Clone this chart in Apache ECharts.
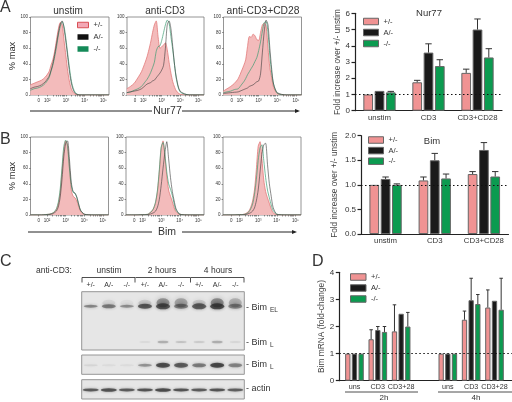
<!DOCTYPE html>
<html><head><meta charset="utf-8">
<style>html,body{margin:0;padding:0;background:#fff}#c{width:512px;height:402px}</style>
<script src="https://cdn.jsdelivr.net/npm/echarts@6/dist/echarts.min.js"></script>
</head><body><div id="c"></div>
<script>
// ---- histogram data (% max at each log10 fluorescence position) ----
const histX = [1.1,1.3,1.5,1.7,1.9,2.1,2.2,2.3,2.4,2.5,2.6,2.7,2.8,2.9,3.0,3.1,3.2,3.3,3.4,3.5,3.6,3.7,3.8,4.0,4.5,5.3];
const a1Het = [13,15,17,19,23,30,38,45,56,71,85,93,90,70,50,30,16,7,3,1,.5,0,0,0,0,0];
const a1A   = [8,10,11,13,17,24,31,40,52,66,80,91,95,85,68,48,28,14,6,2,1,0,0,0,0,0];
const a1KO  = [6,8,9,11,15,22,30,38,49,62,77,88,94,88,72,52,33,17,8,3,1,0,0,0,0,0];
const a2Het = [8,11,15,22,30,42,49,58,68,80,90,95,75,60,62,64,67,58,42,28,17,10,5,1,0,0];
const a2A   = [3,4,5,6,8,12,14,15,16,18,19,22,25,28,32,38,60,90,95,85,62,38,22,5,0,0];
const a2KO  = [3,4,6,8,11,17,20,24,29,35,42,56,62,63,70,80,90,96,92,75,58,38,20,4,0,0];
const a3Het = [5,8,11,15,21,32,38,45,62,75,74,78,76,71,70,80,90,92,88,60,35,22,10,2,0,0];
const a3A   = [2,2.5,3,3.5,4,6,7,8,9,11,12,13,15,17,18,27,55,82,96,90,60,33,14,3,0,0];
const a3KO  = [3,4,5,7,8,14,17,21,26,30,34,38,43,48,57,68,82,93,94,80,50,28,14,2,0,0];
const b1Het = [0,0,0,0,.5,1,1.5,2.5,4,7,14,28,55,82,95,90,62,32,24,22,18,11,5,1,0,0];
const b1A   = [0,0,0,0,.3,.5,1,1.5,3,5,10,22,45,75,92,95,72,42,30,28,23,14,6,1,0,0];
const b1KO  = [0,0,0,0,.5,1,1.5,2.5,4.5,8,16,32,60,88,96,88,60,38,29,28,22,13,6,1,0,0];
const b2Het = [0,0,0,0,.3,.5,.7,1,3,5,9,16,30,55,85,95,75,50,32,24,17,9,4,1,0,0];
const b2A   = [0,0,0,0,.2,.3,.5,.7,1,2,3,5,10,20,38,60,80,94,72,48,30,18,8,1,0,0];
const b2KO  = [0,0,0,0,.3,.5,.7,1,3,5,9,17,32,58,87,93,78,55,40,33,25,14,6,1,0,0];
const b3Het = [0,0,0,0,.3,.5,.8,1.5,3,5,10,18,32,58,88,94,72,45,30,22,15,8,3,.5,0,0];
const b3A   = [0,0,0,0,.2,.3,.5,.7,1,2,3,5,9,18,32,55,78,90,92,65,40,24,10,1,0,0];
const b3KO  = [0,0,0,0,.3,.5,.7,1,2,4,8,14,26,45,70,86,90,70,48,32,22,13,6,1,0,0];
const histTickVals = [1.55,2,3,4,5];
const histTickLabels = ['0','10²','10³','10⁴','10⁵'];
const histMinor = [1.55,2,2.3,2.48,2.6,2.7,2.78,2.85,2.9,3,3.3,3.48,3.6,3.7,3.78,3.85,3.9,4,4.3,4.48,4.6,4.7,4.78,4.85,4.9,5];
const histYTicks = [0,20,40,60,80,100];

// ---- bar data ----
const genotypes = ['+/-','A/-','-/-'];
const nurCats = ['unstim','CD3','CD3+CD28'];
const nurHet = [1.0,1.75,2.33], nurA = [1.22,3.58,5.0], nurKO = [1.13,2.75,3.28];
const nurHetTop = [1.0,1.87,2.56], nurATop = [1.25,4.12,5.65], nurKOTop = [1.19,3.14,3.82];
const bimCats = ['unstim','CD3','CD3+CD28'];
const bimHet = [1.0,1.09,1.22], bimA = [1.12,1.5,1.71], bimKO = [1.0,1.13,1.17];
const bimHetTop = [1.0,1.16,1.27], bimATop = [1.16,1.64,1.86], bimKOTop = [1.02,1.22,1.27];
const mrnaPos = [0,1,2,4,5,6];
const mrnaCats = ['uns','CD3','CD3+28','uns','CD3','CD3+28'];
const mrnaHet = [1,1.53,1.82,1,2.25,2.7], mrnaA = [1,1.87,2.47,1,2.97,2.95], mrnaKO = [1,1.8,2.0,1,2.83,2.62];
const mrnaHetTop = [1,1.88,2.8,1,2.57,3.35], mrnaATop = [1,2.0,2.47,1,3.78,2.95], mrnaKOTop = [1,2.0,2.52,1,3.18,3.78];

// ---- blot data (band strength, thickness, lane) ----
const lanes = ['+/-','A/-','-/-','+/-','A/-','-/-','+/-','A/-','-/-'];
const elStrength = [.5,.55,.45,.78,.8,.55,.75,.88,.5];
const elThick    = [3,4,3,5,6,5,6,6,5];
const smearStrength = [0,.08,.04,.15,.45,.35,.15,.5,.28];
const lowStrength = [0,0,0,.05,.25,.16,.12,.26,.07];
const bimLStrength = [.08,.05,.05,.42,.85,.75,.55,.9,.5];
const bimLThick    = [2,2,2,3,5,5,4,5,4];
const actinStrength = [.75,.8,.75,.8,.85,.8,.75,.8,.72];

const GREY='#333', PINK='#F09393', BLACK='#1a1a1a', GREEN='#0B9B50';
const FONT='"Liberation Sans",Arial,sans-serif';
const grids=[],xAxes=[],yAxes=[],series=[],legends=[];

function histPanel(box, het, a, ko, withName){
  const i=grids.length;
  grids.push({left:box[0],top:box[1],width:box[2],height:box[3],show:true,borderColor:'#7a7a7a',borderWidth:.8,backgroundColor:'#fff'});
  xAxes.push({gridIndex:i,type:'value',min:1.11,max:5.3,splitLine:{show:false},
    axisLine:{show:false},
    axisTick:{length:1.5,customValues:histMinor,lineStyle:{color:'#333',width:.5}},
    axisLabel:{customValues:histTickVals,fontSize:4.5,margin:3,color:'#333',fontFamily:FONT,
      formatter:v=>histTickLabels[histTickVals.indexOf(v)]}});
  yAxes.push({gridIndex:i,type:'value',min:0,max:100,interval:20,splitLine:{show:false},
    axisLine:{show:false,onZero:false},axisTick:{show:true,length:1.5,lineStyle:{color:'#333',width:.5}},
    axisLabel:{fontSize:4.5,margin:2.5,color:'#333',fontFamily:FONT},
    name:withName?'% max':'',nameLocation:'middle',nameGap:13,
    nameTextStyle:{fontSize:9.3,color:'#333',fontFamily:FONT}});
  const zip=v=>v.map((y,k)=>[histX[k],y]);
  const line=(name,v,col,w,extra)=>series.push(Object.assign({type:'line',name,xAxisIndex:i,yAxisIndex:i,data:zip(v),
    symbol:'none',smooth:.25,lineStyle:{color:col,width:w},itemStyle:{color:col},silent:true,animation:false},extra||{}));
  line(genotypes[0],het,'#E27A7A',.8,{areaStyle:{color:'#F3BBBB',opacity:1}});
  line(genotypes[2],ko,'#3F9C72',.7);
  line(genotypes[1],a,'#3a3a3a',.6);
}
function legendFor(left,top,gap,w,h,fs,histStyle){
  legends.push({left,top,orient:'vertical',itemWidth:w,itemHeight:h,itemGap:gap,padding:0,selectedMode:false,
    textStyle:{fontSize:fs,color:'#333',fontFamily:FONT,padding:[0,0,0,0]},
    data:genotypes.map((n,k)=>({name:n,icon:'rect',
      itemStyle:histStyle?[{color:'#F3A8B5',borderColor:'#D94F55',borderWidth:1},{color:'#111',borderWidth:0},{color:'#148A58',borderWidth:0}][k]
                          :{color:[PINK,BLACK,GREEN][k],borderColor:'#666',borderWidth:1}}))});
}
function barPanel(o){
  const i=grids.length;
  grids.push({left:o.box[0],top:o.box[1],width:o.box[2],height:o.box[3]});
  const labelStyle={fontSize:o.xfs,color:'#333',margin:o.margin,fontFamily:FONT};
  if(o.pos){
    xAxes.push({gridIndex:i,type:'value',min:o.xmin,max:o.xmax,splitLine:{show:false},
      axisLine:{onZero:false,lineStyle:{color:'#222',width:1.2}},axisTick:{show:false},
      axisLabel:Object.assign({customValues:o.pos,formatter:v=>o.cats[o.pos.indexOf(v)]},labelStyle)});
  }else{
    xAxes.push({gridIndex:i,type:'category',data:o.cats,axisLine:{lineStyle:{color:'#222',width:1.2}},axisTick:{show:false},
      axisLabel:Object.assign({interval:0},labelStyle)});
  }
  yAxes.push({gridIndex:i,type:'value',min:0,max:o.ymax,interval:o.interval,splitLine:{show:false},
    axisLine:{show:true,onZero:false,lineStyle:{color:'#222',width:1.2}},axisTick:{show:true,length:3.5,lineStyle:{color:'#222',width:1.2}},
    axisLabel:{fontSize:o.yfs,margin:5,color:'#333',fontFamily:FONT,formatter:o.fmt},
    name:o.yname,nameLocation:'middle',nameGap:o.nameGap,nameTextStyle:{fontSize:o.nameFs,color:'#444',fontFamily:FONT}});
  const X=k=>o.pos?o.pos[k]:k;
  [o.het,o.a,o.ko].forEach((vals,s)=>{
    const b={type:'bar',name:genotypes[s],xAxisIndex:i,yAxisIndex:i,barWidth:o.bw,barGap:((o.pitch-o.bw)/o.bw*100)+'%',
      data:vals.map((v,k)=>o.pos?[X(k),v]:v),animation:false,silent:true,
      itemStyle:{color:[PINK,BLACK,GREEN][s],borderColor:'#666',borderWidth:1}};
    if(s===2)b.markLine={silent:true,symbol:'none',animation:false,z:10,label:{show:false},
      lineStyle:{color:'#111',type:[1.5,2.5],width:1},data:[{yAxis:1}]};
    series.push(b);
  });
  [o.hetTop,o.aTop,o.koTop].forEach((tops,s)=>{
    const base=[o.het,o.a,o.ko][s];
    series.push({type:'custom',xAxisIndex:i,yAxisIndex:i,silent:true,animation:false,z:5,
      data:tops.map((t,k)=>[X(k),base[k],t]),
      encode:{x:0,y:[1,2]},
      renderItem:(p,api)=>{
        const c0=api.coord([api.value(0),api.value(1)]),c1=api.coord([api.value(0),api.value(2)]);
        const x=c0[0]+(s-1)*o.pitch, cw=o.bw*.33;
        if(Math.abs(c0[1]-c1[1])<.5)return null;
        return {type:'group',children:[
          {type:'line',shape:{x1:x,y1:c0[1],x2:x,y2:c1[1]},style:{stroke:'#333',lineWidth:1}},
          {type:'line',shape:{x1:x-cw,y1:c1[1],x2:x+cw,y2:c1[1]},style:{stroke:'#333',lineWidth:1}}]};
      }});
  });
}
function blotPanel(box,bands,showLanes){
  const i=grids.length;
  grids.push({left:box[0],top:box[1],width:box[2],height:box[3],show:true,backgroundColor:'#E6E6E6',borderColor:'#969696',borderWidth:1});
  xAxes.push({gridIndex:i,type:'category',data:lanes,position:'top',axisLine:{show:false},axisTick:{show:false},
    axisLabel:{show:!!showLanes,interval:0,fontSize:7,color:'#333',margin:3,fontFamily:FONT}});
  yAxes.push({gridIndex:i,type:'value',min:0,max:1,show:false});
  bands.forEach(b=>{
    series.push({type:'scatter',xAxisIndex:i,yAxisIndex:i,silent:true,animation:false,symbol:'circle',
      data:b.strength.map((s,k)=>[k,b.y,s,b.thick[k]]).filter(d=>d[2]>0),
      symbolSize:v=>[b.w,v[3]],
      itemStyle:{color:p=>'rgba(35,35,35,'+p.value[2]+')',shadowBlur:b.blur,shadowColor:'rgba(40,40,40,.7)'}});
  });
}

histPanel([30.5,17,78.5,78],a1Het,a1A,a1KO,true);
histPanel([127,17,77,78],a2Het,a2A,a2KO);
histPanel([223.5,17,78,78],a3Het,a3A,a3KO);
histPanel([30.5,137,78,78],b1Het,b1A,b1KO,true);
histPanel([126,137,78,78],b2Het,b2A,b2KO);
histPanel([223,137,78,78],b3Het,b3A,b3KO);

barPanel({box:[355,13.3,147,97.4],cats:nurCats,ymax:6,interval:1,het:nurHet,a:nurA,ko:nurKO,hetTop:nurHetTop,aTop:nurATop,koTop:nurKOTop,
  bw:9.7,pitch:11.3,xfs:7.8,yfs:8,margin:3,yname:'Fold increase over +/- unstim',nameGap:13,nameFs:8.2});
barPanel({box:[361,135.7,147.5,98.3],cats:bimCats,ymax:2,interval:.5,het:bimHet,a:bimA,ko:bimKO,hetTop:bimHetTop,aTop:bimATop,koTop:bimKOTop,
  fmt:v=>v.toFixed(1),bw:9.7,pitch:11.3,xfs:7.8,yfs:8,margin:3,yname:'Fold increase over +/- unstim',nameGap:22,nameFs:8.2});
barPanel({box:[339.3,272.3,172.7,108.4],cats:mrnaCats,pos:mrnaPos,xmin:-.65,xmax:6.75,ymax:4,interval:1,het:mrnaHet,a:mrnaA,ko:mrnaKO,hetTop:mrnaHetTop,aTop:mrnaATop,koTop:mrnaKOTop,
  bw:5.3,pitch:6.67,xfs:7.2,yfs:8,margin:3,yname:'Bim mRNA (fold-change)',nameGap:14,nameFs:8.4});

legendFor(77,21,4,11,5.5,7.5,true);
legendFor(363,17.5,3,15,6.5,7.5);
legendFor(368,136,2.6,15,6.5,7.5);
legendFor(350,273,3,15.5,6.5,7.5);

blotPanel([81.7,291.7,162.6,58.3],[
  {y:.81,strength:smearStrength,thick:[4,6,6,6,9,9,6,9,9],w:13,blur:5},
  {y:.75,strength:elStrength,thick:elThick,w:14,blur:3},
  {y:.137,strength:lowStrength,thick:[2,2,2,2,2.5,2,2,2.5,2],w:11,blur:2}],true);
blotPanel([81.7,355,162.6,19.3],[{y:.47,strength:bimLStrength,thick:bimLThick,w:14,blur:3}]);
blotPanel([81.7,379.7,162.6,19.3],[{y:.47,strength:actinStrength,thick:[3,3.5,3,3,3.5,3,3,3,3],w:16,blur:2.5}]);

const T=(text,x,y,size,extra)=>Object.assign({type:'text',x,y,silent:true,style:Object.assign({text,fill:'#333',font:size+'px '+FONT,textAlign:'center',textVerticalAlign:'middle'},(extra||{}))});
const L=(x1,y1,x2,y2,w,c)=>({type:'line',silent:true,shape:{x1,y1,x2,y2},style:{stroke:c||'#222',lineWidth:w||1}});
const P=(pts)=>({type:'polygon',silent:true,shape:{points:pts},style:{fill:'#222'}});
const left={textAlign:'left'};
const graphics=[
  T('A',0,8,16,left),T('B',0,140,16,left),T('C',0,262,16,left),T('D',312,262,16,left),
  T('unstim',68,11,10),T('anti-CD3',165,11,10),T('anti-CD3+CD28',263,11,10.3),
  L(30,111,152,111,1),L(182,111,298,111,1),P([[295,109],[300,111],[295,113]]),T('Nur77',167.5,111,10.5),
  L(28,232,152,232,1),L(182,232,293,232,1),P([[292,230],[297,232],[292,234]]),T('Bim',167,232,10.5),
  T('Nur77',429,13,9.5),T('Bim',432,141.5,9.5),
  T('anti-CD3:',54,271,8.5),T('unstim',109,271,8.5),T('2 hours',162,271,8.5),T('4 hours',218,271,8.5),
  L(82,277.5,135,277.5,.8),L(82,277.5,82,282.5,.8),L(135,277.5,135,282.5,.8),
  L(135.5,277.5,190.5,277.5,.8),L(190.5,277.5,190.5,282.5,.8),
  L(191,277.5,244,277.5,.8),L(244,277.5,244,282.5,.8),
  T('- Bim',246,307.5,9,left),T('EL',270,310,6.5,left),
  T('- Bim',246,343,9,left),T('L',270,345.5,6.5,left),
  T('- Bim',246,365,9,left),T('L',270,367.5,6.5,left),
  T('- actin',246,389,9,left),
  L(345,392,418,392,.8),L(438,392,512,392,.8),T('2h',384,398,8),T('4h',476,398,8)
];

const chart=echarts.init(document.getElementById('c'),null,{renderer:'canvas'});
chart.setOption({animation:false,backgroundColor:'#fff',textStyle:{fontFamily:FONT},
  grid:grids,xAxis:xAxes,yAxis:yAxes,series,legend:legends,graphic:graphics,tooltip:{show:false}});
</script></body></html>
